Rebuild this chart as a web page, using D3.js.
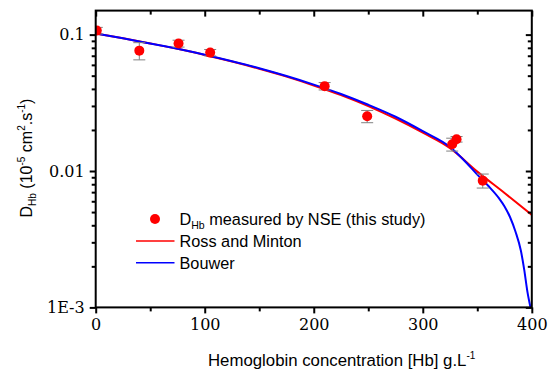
<!DOCTYPE html>
<html><head><meta charset="utf-8">
<script src="https://cdn.jsdelivr.net/npm/d3@7"></script>
<style>body{margin:0;background:#fff}svg{display:block}</style>
</head><body>
<script>
// ---- data ----
const nseConc = [1, 40, 76, 105, 210, 249, 327, 331, 355];
const nseD    = [0.107, 0.0763, 0.086, 0.0738, 0.0419, 0.0252, 0.0157, 0.0171, 0.0085];
const nseErr  = [0.006, 0.011, 0.005, 0.004, 0.0026, 0.0026, 0.0017, 0.0008, 0.001];

const rossConc = [0,25,50,75,100,125,150,175,200,225,250,275,300,325,350,375,400];
const rossD    = [0.102,0.094,0.0862,0.0787,0.0710,0.0635,0.0562,0.0492,0.0424,0.0360,0.0299,0.0242,0.0191,0.0147,0.0099,0.0069,0.00476];

const bouwerConc = [0,25,50,75,100,125,150,175,200,225,250,275,300,325,340,350,360,370,375,380,385,390,393,396,398.8];
const bouwerD    = [0.102,0.094,0.086,0.0787,0.0712,0.0638,0.0567,0.0497,0.0430,0.0367,0.0306,0.0250,0.0196,0.0150,0.0115,0.0094,0.0078,0.0063,0.0055,0.0046,0.0036,0.0026,0.0019,0.0013,0.0010];

const xTicks = [0,100,200,300,400];
const xMinor = [50,150,250,350];
const yTicks = [0.001, 0.01, 0.1];
const yTickLabels = ["1E-3", "0.01", "0.1"];
const yMinor = [0.002,0.003,0.004,0.005,0.006,0.007,0.008,0.009,0.02,0.03,0.04,0.05,0.06,0.07,0.08,0.09];

const legendItems = ["Ross and Minton", "Bouwer"];

// ---- layout ----
const W = 551, H = 370;
const L = 95.7, R = 531.8, T = 10.6, B = 307.4;
const svg = d3.select("body").append("svg").attr("width", W).attr("height", H);

const x = d3.scaleLinear().domain([0, 400]).range([L, R]);
const y = d3.scaleLog().domain([0.001, 0.15]).range([B, T]);

svg.append("clipPath").attr("id","clip").append("rect")
  .attr("x", L).attr("y", T).attr("width", R-L).attr("height", B-T);

const plot = svg.append("g").attr("clip-path","url(#clip)");

const line = d3.line().x(d => x(d[0])).y(d => y(d[1])).curve(d3.curveMonotoneX);

plot.append("path").datum(rossConc.map((c,i)=>[c, rossD[i]]))
  .attr("d", line).attr("fill","none").attr("stroke","#ff0000").attr("stroke-width",2);
plot.append("path").datum(bouwerConc.map((c,i)=>[c, bouwerD[i]]))
  .attr("d", line).attr("fill","none").attr("stroke","#0000ff").attr("stroke-width",2);

// error bars
const pts = nseConc.map((c,i)=>({c, d:nseD[i], e:nseErr[i]}));
const eb = plot.append("g").attr("stroke","#808080").attr("stroke-width",1);
pts.forEach(p => {
  const cx = x(p.c), y1 = y(p.d + p.e), y2 = y(p.d - p.e);
  eb.append("line").attr("x1",cx).attr("x2",cx).attr("y1",y1).attr("y2",y2);
  eb.append("line").attr("x1",cx-6).attr("x2",cx+6).attr("y1",y1).attr("y2",y1);
  eb.append("line").attr("x1",cx-6).attr("x2",cx+6).attr("y1",y2).attr("y2",y2);
});
plot.append("g").selectAll("circle").data(pts).join("circle")
  .attr("cx", p => x(p.c)).attr("cy", p => y(p.d)).attr("r", 5).attr("fill","#ff0000");

// axes
const fmtY = d => yTickLabels[yTicks.indexOf(d)];
const axFont = "'DejaVu Serif', serif";

function styleAxis(g){
  g.select(".domain").remove();
  g.selectAll(".tick line").attr("stroke","#000").attr("stroke-width",2);
  g.selectAll("text").attr("font-family", axFont).attr("font-size", 16).attr("fill","#000");
}

const xb = svg.append("g").attr("transform",`translate(0,${B})`)
  .call(d3.axisBottom(x).tickValues(xTicks).tickSize(6).tickPadding(5).tickFormat(d3.format("d")));
styleAxis(xb);
const xbm = svg.append("g").attr("transform",`translate(0,${B})`)
  .call(d3.axisBottom(x).tickValues(xMinor).tickSize(4).tickFormat(""));
styleAxis(xbm);

const xt = svg.append("g").attr("transform",`translate(0,${T})`)
  .call(d3.axisBottom(x).tickValues(xTicks).tickSize(6).tickFormat(""));
styleAxis(xt);
const xtm = svg.append("g").attr("transform",`translate(0,${T})`)
  .call(d3.axisBottom(x).tickValues(xMinor).tickSize(4).tickFormat(""));
styleAxis(xtm);

const yl = svg.append("g").attr("transform",`translate(${L},0)`)
  .call(d3.axisLeft(y).tickValues(yTicks).tickSize(6).tickPadding(5).tickFormat(fmtY));
styleAxis(yl);
const ylm = svg.append("g").attr("transform",`translate(${L},0)`)
  .call(d3.axisLeft(y).tickValues(yMinor).tickSize(4).tickFormat(""));
styleAxis(ylm);

const yr = svg.append("g").attr("transform",`translate(${R},0)`)
  .call(d3.axisLeft(y).tickValues(yTicks).tickSize(6).tickFormat(""));
styleAxis(yr);
const yrm = svg.append("g").attr("transform",`translate(${R},0)`)
  .call(d3.axisLeft(y).tickValues(yMinor).tickSize(4).tickFormat(""));
styleAxis(yrm);

// frame
svg.append("rect").attr("x",L).attr("y",T).attr("width",R-L).attr("height",B-T)
  .attr("fill","none").attr("stroke","#000").attr("stroke-width",2);

// axis titles
const sans = "'Liberation Sans', Arial, sans-serif";
const xt1 = svg.append("text").attr("x", 208).attr("y", 366)
  .attr("font-family", sans).attr("font-size", 16.8).attr("fill","#000");
xt1.append("tspan").text("Hemoglobin concentration [Hb] g.L");
xt1.append("tspan").attr("font-size", 10).attr("dy", -7).text("-1");

const yt = svg.append("text").attr("transform","translate(32,158) rotate(-90)")
  .attr("text-anchor","middle").attr("font-family", sans).attr("font-size", 16).attr("fill","#000");
yt.append("tspan").text("D");
yt.append("tspan").attr("font-size",10).attr("dy",4).text("Hb");
yt.append("tspan").attr("dy",-4).text(" (10");
yt.append("tspan").attr("font-size",10).attr("dy",-7).text("-5");
yt.append("tspan").attr("dy",7).text(" cm");
yt.append("tspan").attr("font-size",10).attr("dy",-7).text("2");
yt.append("tspan").attr("dy",7).text(".s");
yt.append("tspan").attr("font-size",10).attr("dy",-7).text("-1");
yt.append("tspan").attr("dy",7).text(")");

// legend
const lg = svg.append("g").attr("font-family", sans).attr("font-size", 16.3).attr("fill","#000");
lg.append("circle").attr("cx",155).attr("cy",219).attr("r",5).attr("fill","#ff0000");
const l1 = lg.append("text").attr("x",179.5).attr("y",225);
l1.append("tspan").text("D");
l1.append("tspan").attr("font-size",10.5).attr("dy",4).text("Hb");
l1.append("tspan").attr("dy",-4).text(" measured by NSE (this study)");
const legColors = ["#ff0000","#0000ff"];
legendItems.forEach((t,i) => {
  const yy = 241 + i*21.7;
  lg.append("line").attr("x1",136).attr("x2",174.5).attr("y1",yy).attr("y2",yy)
    .attr("stroke",legColors[i]).attr("stroke-width",1.5);
  lg.append("text").attr("x",179.5).attr("y",yy+6).text(t);
});
</script>
</body></html>
